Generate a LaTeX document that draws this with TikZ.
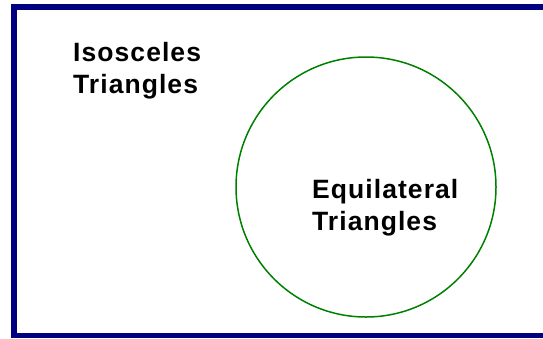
\documentclass[tikz,border=0pt]{standalone}
\usepackage{fontspec}
\setmainfont{Liberation Sans}
\newfontfamily\labelfont[LetterSpace=4]{Liberation Sans}
\definecolor{frameblue}{RGB}{0,0,128}
\definecolor{circgreen}{RGB}{0,128,0}
\begin{document}
\begin{tikzpicture}[x=1pt,y=-1pt,
  lbl/.style={anchor=base west,inner sep=0pt,font=\labelfont\fontsize{26.5}{32}\selectfont\bfseries,align=left}]
\useasboundingbox (0,0) rectangle (543,338);
\begin{scope}
\clip (0,0) rectangle (543,338);
\draw[frameblue,line width=6pt] (14,7) -- (580,7);
\draw[frameblue,line width=6pt] (14,4) -- (14,338);
\draw[frameblue,line width=5pt] (11,335) -- (580,335);
\end{scope}
\node[draw=circgreen,line width=1.5pt,circle,minimum size=260pt,inner sep=0pt] (eq) at (366,187) {};
\node[lbl] (iso) at (73,93) {Isosceles\\Triangles};
\node[lbl] (equ) at (312,230) {Equilateral\\Triangles};
\end{tikzpicture}
\end{document}
